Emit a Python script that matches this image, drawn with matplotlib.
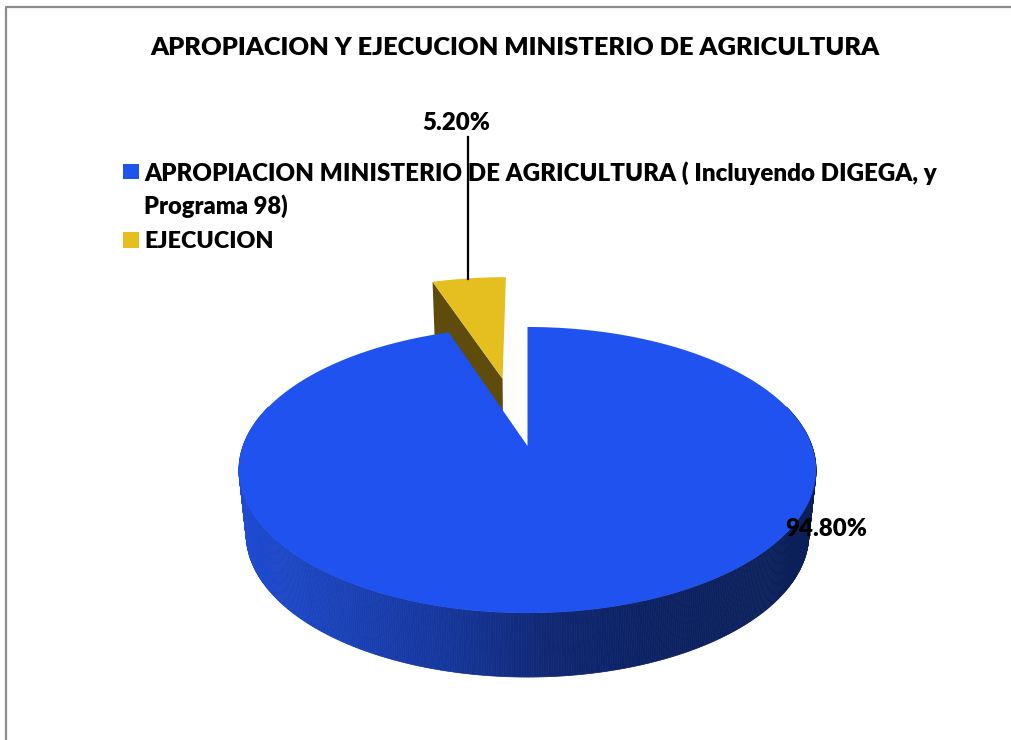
import numpy as np
import matplotlib
matplotlib.use('Agg')
import matplotlib.pyplot as plt
from matplotlib.colors import LinearSegmentedColormap
from matplotlib.patches import Polygon, Rectangle

plt.rcParams['font.family'] = ['Lato', 'DejaVu Sans']

title = 'APROPIACION Y EJECUCION MINISTERIO DE AGRICULTURA'
categories = ['APROPIACION MINISTERIO DE AGRICULTURA ( Incluyendo DIGEGA, y\nPrograma 98)', 'EJECUCION']
values = [94.8, 5.2]
value_labels = ['94.80%', '5.20%']
colors = ['#1f52ef', '#e4bf1f']

# pie geometry, in pixels of the 1012x740 picture
cx, cy = 527.5, 446
sx, sy = 284.5, 139
persp = 0.168
depth = 64
bottom_scale = 0.975
explode = 0.533
explode_skew = 1.1


def project(u, v, lower=False):
    # disc coordinates to screen, v points to the viewer
    w = 1 - persp * v
    a = sx * bottom_scale if lower else sx
    y0 = cy + depth if lower else cy
    return cx + a * u / w, y0 + sy * v / w


def arc(start, stop, n=300):
    # angles clockwise from 12 o'clock
    t = np.linspace(start, stop, n)
    return np.sin(t), -np.cos(t)


fig = plt.figure(figsize=(10.12, 7.4), dpi=100)
ax = fig.add_axes([0, 0, 1, 1])
ax.set_xlim(0, 1012)
ax.set_ylim(740, 0)
ax.axis('off')

# chart frame, only left and top are in the picture
ax.plot([6, 6, 1012], [740, 7, 7], color='#8c8c8c', lw=1.6, zorder=1)

total = sum(values)
blue_end = 2 * np.pi * values[0] / total
yellow_mid = (blue_end + 2 * np.pi) / 2

# exploded slice, wall first
ox = np.sin(yellow_mid) * explode * explode_skew
oy = -np.cos(yellow_mid) * explode
u, v = arc(blue_end, 2 * np.pi)
u = u + ox
v = v + oy
px, py = project(u, v)
lx, ly = project(np.array([ox, u[0]]), np.array([oy, v[0]]), lower=True)
tx, ty = project(np.array([ox, u[0]]), np.array([oy, v[0]]))
ax.add_patch(Polygon(np.column_stack([[tx[0], tx[1], lx[1], lx[0]], [ty[0], ty[1], ly[1], ly[0]]]),
                     fc='#5f4b0c', ec='none', zorder=2))
ax0, ay0 = project(ox, oy)
ax.add_patch(Polygon(np.column_stack([np.r_[ax0, px], np.r_[ay0, py]]), fc=colors[1], ec='none', zorder=3))

# side of the big slice, shaded from left to right
shade = LinearSegmentedColormap.from_list('side', [(0.0, '#1e4bd2'), (0.19, '#1a40b4'), (0.36, '#15369b'),
                                                   (0.54, '#102773'), (0.71, '#0d2263'), (1.0, '#0b2059')])
u, v = arc(np.pi / 2 - 0.3, 3 * np.pi / 2 + 0.3, 500)
tx, ty = project(u, v)
lx, ly = project(u, v, lower=True)
for i in range(len(u) - 1):
    c = shade((tx[i] - 240) / 577)
    ax.add_patch(Polygon([(tx[i], ty[i]), (tx[i + 1], ty[i + 1]), (lx[i + 1], ly[i + 1]), (lx[i], ly[i])],
                         fc=c, ec=c, lw=0.5, zorder=4))

# top of the big slice
u, v = arc(0, blue_end, 800)
px, py = project(u, v)
ax0, ay0 = project(0.0, 0.0)
ax.add_patch(Polygon(np.column_stack([np.r_[ax0, px], np.r_[ay0, py]]), fc=colors[0], ec='none', zorder=5))

# legend
ax.add_patch(Rectangle((123, 164), 16, 15, fc=colors[0], ec='none', zorder=6))
ax.add_patch(Rectangle((123, 232), 16, 16, fc=colors[1], ec='none', zorder=6))
first, second = categories[0].split('\n')
ax.text(144.5, 173, first, fontsize=17.35, fontweight=800, va='center', ha='left', zorder=6)
ax.text(144.5, 206, second, fontsize=17.0, fontweight=800, va='center', ha='left', zorder=6)
ax.text(144.5, 242, categories[1], fontsize=16.8, fontweight=800, va='center', ha='left', zorder=6)

ax.text(514.5, 48, title, fontsize=18.35, fontweight=800, va='center', ha='center', zorder=6)

# data labels and leader line
ax.plot([468, 468], [137, 279], color='black', lw=1.6, zorder=7)
ax.text(456, 123, value_labels[1], fontsize=17.4, fontweight=800, va='center', ha='center', zorder=7)
ax.text(826, 529, value_labels[0], fontsize=17.4, fontweight=800, va='center', ha='center', zorder=7)

fig.savefig('out.png', dpi=100)
